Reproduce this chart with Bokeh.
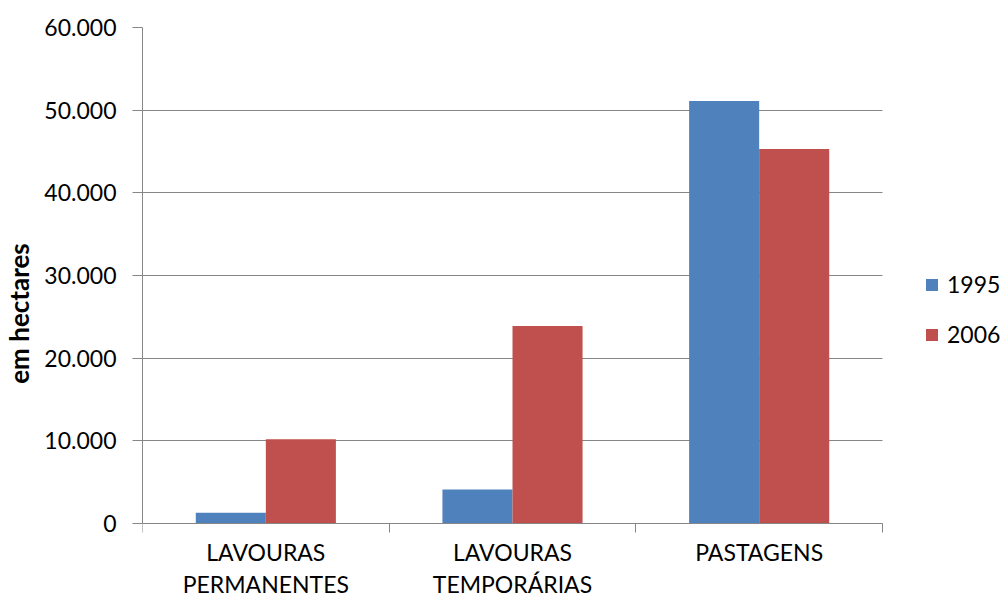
from bokeh.plotting import figure
from bokeh.models import (Range1d, FixedTicker, Legend, LegendItem, ColumnDataSource)
from bokeh.transform import dodge
from bokeh.embed import file_html
from bokeh.resources import INLINE

categories = ["LAVOURAS\nPERMANENTES", "LAVOURAS\nTEMPORÁRIAS", "PASTAGENS"]
years = ["1995", "2006"]
v1995 = [1300, 4100, 51100]
v2006 = [10200, 23900, 45300]
y_ticks = [0, 10000, 20000, 30000, 40000, 50000, 60000]
y_tick_labels = ["0", "10.000", "20.000", "30.000", "40.000", "50.000", "60.000"]
y_title = "em hectares"
colors = ["#4F81BD", "#C0504D"]

FONT = "Lato"
GRID = "#868686"

# layout (pixels)
W, H = 1001, 599
LEFT, TOP = 142, 27
PLOT_W, PLOT_H = 740, 496          # area spanned by the categories / 0..60000
YMAX = y_ticks[-1]

n = len(categories)
centers = [i + 0.5 for i in range(n)]
bounds = list(range(n + 1))
src = ColumnDataSource(dict(x=centers, v1995=v1995, v2006=v2006))

x_end = n * (W - LEFT) / PLOT_W
y_start = -YMAX * (H - TOP - PLOT_H) / PLOT_H

p = figure(width=W, height=H, x_range=Range1d(0, x_end),
           y_range=Range1d(y_start, YMAX), output_backend="svg", toolbar_location=None,
           x_axis_location="below", y_axis_location="left",
           min_border_left=LEFT, min_border_right=0, min_border_top=TOP, min_border_bottom=0)
p.outline_line_color = None
p.background_fill_color = "white"
p.border_fill_color = "white"

bw = 0.284
r1 = p.vbar(x=dodge("x", -bw / 2), top="v1995", width=bw, source=src,
            fill_color=colors[0], line_color=None)
r2 = p.vbar(x=dodge("x", bw / 2), top="v2006", width=bw, source=src,
            fill_color=colors[1], line_color=None)

# y axis
ya = p.yaxis[0]
ya.ticker = FixedTicker(ticks=y_ticks)
ya.bounds = (0, YMAX)
ya.major_label_overrides = {t: l for t, l in zip(y_ticks, y_tick_labels)}
ya.axis_line_color = GRID
ya.major_tick_line_color = GRID
ya.major_tick_out = 10
ya.major_tick_in = 0
ya.minor_tick_line_color = None
ya.major_label_text_font = FONT
ya.major_label_text_font_size = "23px"
ya.major_label_text_color = "black"
ya.major_label_standoff = 16
ya.axis_label = y_title
ya.axis_label_text_font = FONT
ya.axis_label_text_font_size = "26px"
ya.axis_label_text_font_style = "bold"
ya.axis_label_text_color = "black"
ya.axis_label_standoff = 6

p.ygrid.ticker = FixedTicker(ticks=y_ticks)
p.ygrid.grid_line_color = GRID
p.ygrid.cross_bounds = (0, n)
p.xgrid.grid_line_color = None

# x axis at y=0: labels at category centres, tick marks at category boundaries
xa = p.xaxis[0]
xa.fixed_location = 0
xa.bounds = (0, n)
xa.ticker = FixedTicker(ticks=centers, minor_ticks=bounds)
xa.major_label_overrides = {c: lab for c, lab in zip(centers, categories)}
xa.axis_line_color = GRID
xa.major_tick_line_color = None
xa.major_tick_out = 0
xa.major_tick_in = 0
xa.minor_tick_line_color = GRID
xa.minor_tick_out = 9
xa.minor_tick_in = 0
xa.major_label_text_font = FONT
xa.major_label_text_font_size = "23px"
xa.major_label_text_color = "black"
xa.major_label_standoff = 5
xa.major_label_text_line_height = 1.15

legend = Legend(items=[LegendItem(label=years[0], renderers=[r1]),
                       LegendItem(label=years[1], renderers=[r2])],
                location=(782, 251), orientation="vertical")
legend.border_line_color = None
legend.background_fill_alpha = 0
legend.glyph_width = 15
legend.glyph_height = 15
legend.label_text_font = FONT
legend.label_text_font_size = "23px"
legend.label_text_color = "black"
legend.spacing = 22
legend.padding = 0
legend.margin = 0
legend.label_standoff = 8
p.add_layout(legend, "center")

open("out.html", "w").write(file_html(p, INLINE))
